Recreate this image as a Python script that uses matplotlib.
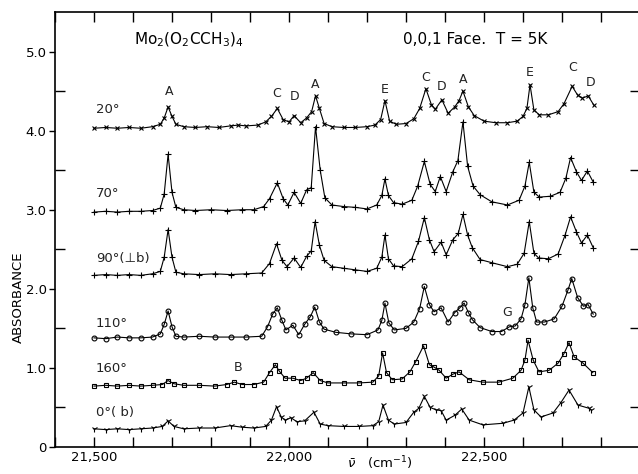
import matplotlib
matplotlib.use('Agg')
import matplotlib.pyplot as plt
from matplotlib.ticker import MultipleLocator, FixedLocator

# ── spectra (wavenumber in cm-1, absorbance incl. offset) ──
x_20 = [21500, 21530, 21560, 21590, 21620, 21650, 21670, 21680, 21690, 21700,
        21710, 21730, 21760, 21790, 21820, 21850, 21870, 21890, 21920, 21940,
        21955, 21970, 21985, 22000, 22013, 22030, 22045, 22058, 22068, 22078,
        22090, 22110, 22140, 22170, 22200, 22220, 22235, 22246, 22258, 22275,
        22300, 22320, 22335, 22351, 22365, 22375, 22392, 22408, 22425, 22436,
        22446, 22460, 22475, 22500, 22530, 22560, 22585, 22600, 22610, 22618,
        22628, 22642, 22665, 22690, 22705, 22726, 22740, 22752, 22767, 22782]
y_20 = [4.03, 4.04, 4.03, 4.04, 4.03, 4.05, 4.08, 4.16, 4.30, 4.18,
        4.08, 4.05, 4.04, 4.05, 4.04, 4.06, 4.07, 4.06, 4.07, 4.11,
        4.18, 4.28, 4.14, 4.11, 4.19, 4.10, 4.16, 4.24, 4.44, 4.28,
        4.09, 4.05, 4.04, 4.04, 4.05, 4.07, 4.14, 4.38, 4.12, 4.08,
        4.09, 4.15, 4.28, 4.53, 4.33, 4.27, 4.39, 4.22, 4.30, 4.38,
        4.50, 4.30, 4.19, 4.12, 4.10, 4.10, 4.12, 4.18, 4.28, 4.58,
        4.26, 4.20, 4.20, 4.24, 4.34, 4.56, 4.45, 4.41, 4.44, 4.32]

x_70 = [21500, 21530, 21560, 21590, 21620, 21650, 21670, 21680, 21690, 21700,
        21710, 21730, 21760, 21800, 21840, 21880, 21910, 21935, 21950, 21970,
        21985, 21997, 22013, 22030, 22045, 22057, 22068, 22080, 22092, 22110,
        22140, 22170, 22200, 22225, 22238, 22246, 22255, 22268, 22290, 22315,
        22330, 22347, 22362, 22375, 22388, 22403, 22420, 22433, 22446, 22458,
        22472, 22490, 22520, 22560, 22590, 22605, 22616, 22628, 22642, 22670,
        22695, 22710, 22722, 22737, 22750, 22765, 22780]
y_70 = [2.97, 2.98, 2.97, 2.98, 2.98, 2.99, 3.02, 3.20, 3.70, 3.22,
        3.03, 3.00, 2.99, 3.00, 2.99, 3.00, 3.00, 3.04, 3.14, 3.34,
        3.14, 3.06, 3.22, 3.08, 3.25, 3.28, 4.05, 3.50, 3.15, 3.06,
        3.04, 3.03, 3.01, 3.06, 3.18, 3.39, 3.18, 3.09, 3.07, 3.12,
        3.30, 3.61, 3.32, 3.23, 3.42, 3.23, 3.48, 3.62, 4.11, 3.55,
        3.30, 3.19, 3.10, 3.06, 3.12, 3.30, 3.60, 3.22, 3.16, 3.17,
        3.22, 3.40, 3.66, 3.48, 3.37, 3.49, 3.35]

x_90 = [21500, 21530, 21560, 21590, 21620, 21650, 21670, 21680, 21690, 21700,
        21710, 21730, 21770, 21810, 21850, 21890, 21930, 21950, 21968, 21982,
        21995, 22013, 22030, 22045, 22057, 22067, 22078, 22090, 22110, 22140,
        22170, 22200, 22225, 22238, 22246, 22255, 22268, 22290, 22315, 22332,
        22347, 22360, 22372, 22390, 22403, 22420, 22434, 22446, 22458, 22470,
        22490, 22520, 22560, 22585, 22603, 22616, 22628, 22640, 22665, 22690,
        22708, 22722, 22737, 22750, 22765, 22780]
y_90 = [2.17, 2.18, 2.17, 2.18, 2.17, 2.19, 2.22, 2.40, 2.75, 2.40,
        2.21, 2.19, 2.18, 2.19, 2.18, 2.19, 2.20, 2.32, 2.57, 2.36,
        2.28, 2.39, 2.27, 2.41, 2.48, 2.85, 2.55, 2.36, 2.28, 2.26,
        2.24, 2.22, 2.26, 2.40, 2.68, 2.38, 2.29, 2.28, 2.38, 2.60,
        2.90, 2.62, 2.47, 2.59, 2.43, 2.62, 2.70, 2.94, 2.68, 2.52,
        2.37, 2.33, 2.28, 2.31, 2.45, 2.85, 2.45, 2.39, 2.38, 2.44,
        2.68, 2.91, 2.72, 2.58, 2.68, 2.52]

x_110 = [21500, 21530, 21560, 21590, 21620, 21650, 21670, 21680, 21690, 21700,
         21710, 21730, 21770, 21810, 21850, 21890, 21930, 21945, 21958, 21970,
         21982, 21992, 22010, 22025, 22040, 22055, 22066, 22078, 22090, 22120,
         22160, 22200, 22228, 22238, 22246, 22256, 22270, 22300, 22320, 22335,
         22347, 22360, 22372, 22390, 22408, 22425, 22438, 22449, 22460, 22470,
         22490, 22520, 22545, 22565, 22580, 22595, 22605, 22615, 22625, 22635,
         22655, 22680, 22700, 22715, 22725, 22740, 22755, 22767, 22780]
y_110 = [1.38, 1.37, 1.39, 1.38, 1.38, 1.39, 1.43, 1.55, 1.72, 1.52,
         1.40, 1.39, 1.40, 1.39, 1.39, 1.39, 1.40, 1.52, 1.68, 1.76,
         1.60, 1.48, 1.54, 1.42, 1.55, 1.65, 1.77, 1.58, 1.49, 1.45,
         1.43, 1.42, 1.48, 1.60, 1.82, 1.57, 1.48, 1.50, 1.58, 1.75,
         2.03, 1.80, 1.71, 1.76, 1.58, 1.70, 1.76, 1.82, 1.70, 1.61,
         1.51, 1.46, 1.46, 1.52, 1.53, 1.62, 1.80, 2.14, 1.76, 1.58,
         1.58, 1.62, 1.78, 1.98, 2.13, 1.89, 1.78, 1.80, 1.68]

x_160 = [21500, 21530, 21560, 21590, 21620, 21650, 21675, 21690, 21705, 21730,
         21770, 21810, 21840, 21860, 21880, 21910, 21935, 21950, 21965, 21975,
         21990, 22010, 22030, 22045, 22062, 22080, 22100, 22140, 22180, 22215,
         22230, 22240, 22250, 22265, 22290, 22310, 22325, 22345, 22360, 22372,
         22385, 22403, 22420, 22436, 22462, 22497, 22538, 22574, 22595, 22605,
         22613, 22626, 22641, 22667, 22690, 22705, 22718, 22731, 22754, 22779]
y_160 = [0.77, 0.78, 0.77, 0.78, 0.77, 0.78, 0.79, 0.84, 0.80, 0.78,
         0.78, 0.77, 0.79, 0.82, 0.79, 0.79, 0.82, 0.94, 1.04, 0.96,
         0.87, 0.87, 0.84, 0.87, 0.94, 0.84, 0.81, 0.81, 0.81, 0.82,
         0.90, 1.19, 0.94, 0.85, 0.86, 0.95, 1.08, 1.28, 1.04, 1.01,
         0.97, 0.87, 0.92, 0.95, 0.85, 0.82, 0.82, 0.87, 0.97, 1.10,
         1.35, 1.10, 0.95, 0.97, 1.06, 1.18, 1.32, 1.14, 1.06, 0.94]

x_0 = [21500, 21530, 21560, 21590, 21620, 21650, 21675, 21690, 21705, 21730,
       21770, 21810, 21850, 21880, 21910, 21940, 21955, 21968, 21980, 21990,
       22005, 22020, 22040, 22064, 22080, 22100, 22140, 22180, 22215, 22230,
       22241, 22255, 22270, 22300, 22320, 22333, 22347, 22362, 22377, 22390,
       22403, 22425, 22443, 22462, 22497, 22549, 22577, 22600, 22615, 22628,
       22646, 22677, 22697, 22718, 22741, 22769, 22775]
y_0 = [0.23, 0.22, 0.23, 0.22, 0.23, 0.24, 0.26, 0.33, 0.26, 0.23,
       0.24, 0.24, 0.27, 0.25, 0.24, 0.26, 0.34, 0.51, 0.38, 0.34,
       0.37, 0.32, 0.33, 0.44, 0.29, 0.27, 0.26, 0.26, 0.27, 0.32,
       0.53, 0.34, 0.29, 0.31, 0.44, 0.49, 0.64, 0.50, 0.47, 0.46,
       0.34, 0.40, 0.48, 0.34, 0.28, 0.30, 0.34, 0.43, 0.76, 0.47,
       0.38, 0.43, 0.56, 0.72, 0.53, 0.49, 0.47]

trace_labels = ['20°', '70°', '90°(⊥b)', '110°', '160°', '0°( b)']
label_y = [4.18, 3.12, 2.30, 1.48, 0.91, 0.36]

# peak assignments written above the 20° trace + B and G
peak_names = ['A', 'C', 'D', 'A', 'E', 'C', 'D', 'A', 'E', 'C', 'D', 'B', 'G']
peak_x = [21692, 21969, 22013, 22067, 22246, 22351, 22392, 22446, 22618, 22726, 22774, 21869, 22559]
peak_y = [4.49, 4.47, 4.43, 4.58, 4.52, 4.67, 4.56, 4.65, 4.73, 4.80, 4.61, 1.00, 1.70]

traces = [(x_20, y_20, 'x', 3.5), (x_70, y_70, '+', 4.5), (x_90, y_90, '+', 4.5),
          (x_110, y_110, 'o', 3.5), (x_160, y_160, 's', 3.2), (x_0, y_0, '1', 4.5)]

fig = plt.figure(figsize=(6.38, 4.74), dpi=100)
ax = fig.add_axes([55 / 638, 27 / 474, 585 / 638, 435 / 474])

for (xs, ys, mk, ms) in traces:
    ax.plot(xs, ys, color='black', lw=0.8, marker=mk, ms=ms,
            mfc='none', mec='black', mew=0.8)

for lab, ly in zip(trace_labels, label_y):
    ax.text(21505, ly, lab, fontsize=9.5, ha='left', va='bottom', color='#222222')

for nm, px, py in zip(peak_names, peak_x, peak_y):
    ax.text(px, py, nm, fontsize=9, ha='center', va='center', color='#222222')

ax.text(21744, 5.15, r'Mo$_2$(O$_2$CCH$_3$)$_4$', fontsize=11, ha='center', va='center')
ax.text(22477, 5.15, '0,0,1 Face.  T = 5K', fontsize=11, ha='center', va='center')

# ── axes / ticks ───────────────────────────────────────────
ax.set_xlim(21400, 22900)
ax.set_ylim(0, 5.5)
ax.set_xticks([21500, 22000, 22500])
ax.set_xticklabels(['21,500', '22,000', '22,500'])
ax.xaxis.set_minor_locator(MultipleLocator(100))
ax.tick_params(axis='x', which='both', direction='in', top=True, length=7,
               width=1, labelsize=9.5, pad=3)
ax.set_yticks([0, 1, 2, 3, 4, 5])
ax.set_yticklabels(['0', '1.0', '2.0', '3.0', '4.0', '5.0'])
ax.yaxis.set_minor_locator(FixedLocator([0.5, 1.5, 2.5, 3.5, 4.5]))
ax.tick_params(axis='y', which='major', direction='out', length=4, width=1,
               labelsize=9.5, pad=2)
ax.tick_params(axis='y', which='minor', direction='in', length=7, width=1, right=True)
ax.tick_params(axis='y', which='major', right=True)
for sp in ax.spines.values():
    sp.set_linewidth(1.2)

fig.text(380 / 638, 2 / 474, r'$\bar{\nu}$   (cm$^{-1}$)', fontsize=9.5,
         ha='center', va='bottom')
fig.text(18 / 638, 1 - 297 / 474, 'ABSORBANCE', fontsize=9.5, rotation=90,
         ha='center', va='center')

fig.savefig('out.png', dpi=100)
